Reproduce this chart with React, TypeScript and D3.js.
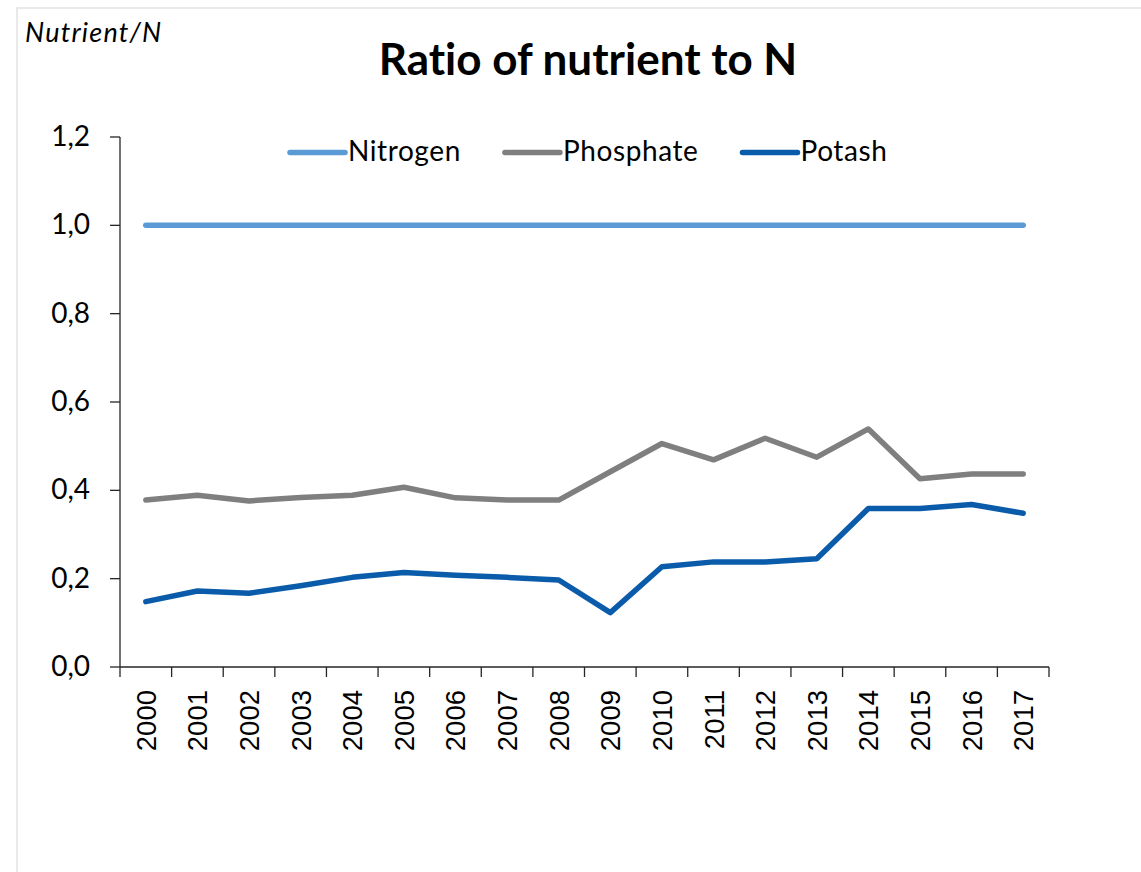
import { useEffect, useRef } from "react";
import * as d3 from "d3";

const years = ["2000", "2001", "2002", "2003", "2004", "2005", "2006", "2007", "2008",
  "2009", "2010", "2011", "2012", "2013", "2014", "2015", "2016", "2017"];
const nitrogen = [1, 1, 1, 1, 1, 1, 1, 1, 1, 1, 1, 1, 1, 1, 1, 1, 1, 1];
const phosphate = [0.378, 0.389, 0.376, 0.384, 0.389, 0.407, 0.383, 0.378, 0.378,
  0.442, 0.506, 0.469, 0.518, 0.475, 0.539, 0.426, 0.437, 0.437];
const potash = [0.148, 0.172, 0.167, 0.184, 0.203, 0.214, 0.208, 0.203, 0.197,
  0.123, 0.227, 0.238, 0.238, 0.245, 0.359, 0.359, 0.368, 0.348];
const yTicks = [0, 0.2, 0.4, 0.6, 0.8, 1.0, 1.2];

const seriesList = [
  { name: "Nitrogen", values: nitrogen, color: "#5B9BD5" },
  { name: "Phosphate", values: phosphate, color: "#7F7F7F" },
  { name: "Potash", values: potash, color: "#0A5CAB" },
];

const FONT = "Lato, 'Open Sans', sans-serif";

export default function App() {
  const ref = useRef<SVGSVGElement>(null);

  useEffect(() => {
    const svg = d3.select(ref.current);
    svg.selectAll("*").remove();

    const W = 1141, H = 872;
    // plot area
    const M = { LEFT: 120, RIGHT: 1049, TOP: 137, BOTTOM: 667 };

    // chart frame (light border)
    svg.append("rect")
      .attr("x", 17).attr("y", 8)
      .attr("width", W).attr("height", H)
      .attr("fill", "#fff")
      .attr("stroke", "#e2e2e2").attr("stroke-width", 1.5);

    const x = d3.scaleBand().domain(years).range([M.LEFT, M.RIGHT]);
    const y = d3.scaleLinear().domain([0, 1.2]).range([M.BOTTOM, M.TOP]);

    // y axis
    const yAxis = svg.append("g");
    yAxis.append("line")
      .attr("x1", M.LEFT).attr("x2", M.LEFT)
      .attr("y1", M.TOP).attr("y2", M.BOTTOM)
      .attr("stroke", "#262626").attr("stroke-width", 1.3);
    yTicks.forEach(t => {
      yAxis.append("line")
        .attr("x1", M.LEFT - 10).attr("x2", M.LEFT)
        .attr("y1", y(t)).attr("y2", y(t))
        .attr("stroke", "#262626").attr("stroke-width", 1.3);
      yAxis.append("text")
        .attr("x", M.LEFT - 30).attr("y", y(t) + 9)
        .attr("text-anchor", "end")
        .attr("font-family", FONT).attr("font-size", 28)
        .attr("fill", "#000")
        .text(d3.format(".1f")(t).replace(".", ","));
    });

    // x axis
    const xAxis = svg.append("g");
    xAxis.append("line")
      .attr("x1", M.LEFT).attr("x2", M.RIGHT)
      .attr("y1", M.BOTTOM).attr("y2", M.BOTTOM)
      .attr("stroke", "#262626").attr("stroke-width", 1.3);
    const bounds = years.map(yr => x(yr) as number).concat([M.RIGHT]);
    bounds.forEach(b => {
      xAxis.append("line")
        .attr("x1", b).attr("x2", b)
        .attr("y1", M.BOTTOM).attr("y2", M.BOTTOM + 10)
        .attr("stroke", "#262626").attr("stroke-width", 1.3);
    });
    years.forEach(yr => {
      const cx = (x(yr) as number) + x.bandwidth() / 2;
      xAxis.append("text")
        .attr("transform", `translate(${cx + 10}, ${M.BOTTOM + 23}) rotate(-90)`)
        .attr("text-anchor", "end")
        .attr("font-family", "'Liberation Sans', Arial, sans-serif")
        .attr("font-size", 27.5)
        .attr("fill", "#000")
        .text(yr);
    });

    // lines
    const line = d3.line<number>()
      .x((_, i) => (x(years[i]) as number) + x.bandwidth() / 2)
      .y(d => y(d));
    seriesList.forEach(s => {
      svg.append("path")
        .datum(s.values)
        .attr("fill", "none")
        .attr("stroke", s.color)
        .attr("stroke-width", 5.5)
        .attr("stroke-linejoin", "round")
        .attr("stroke-linecap", "round")
        .attr("d", line);
    });

    // legend
    const legend = svg.append("g");
    let lx = 290;
    const ly = 152.5;
    seriesList.forEach(s => {
      legend.append("line")
        .attr("x1", lx).attr("x2", lx + 55)
        .attr("y1", ly).attr("y2", ly)
        .attr("stroke", s.color).attr("stroke-width", 5.5)
        .attr("stroke-linecap", "round");
      const t = legend.append("text")
        .attr("x", lx + 58).attr("y", ly + 8)
        .attr("font-family", FONT).attr("font-size", 28)
        .attr("letter-spacing", 0.6)
        .attr("fill", "#000")
        .text(s.name);
      const w = (t.node() as SVGTextElement).getComputedTextLength();
      lx = lx + 58 + w + 44;
    });

    // title
    svg.append("text")
      .attr("x", 588).attr("y", 75)
      .attr("text-anchor", "middle")
      .attr("font-family", FONT).attr("font-weight", "bold")
      .attr("font-size", 44)
      .style("font-variant-ligatures", "none")
      .attr("fill", "#000")
      .text("Ratio of nutrient to N");

    // y axis unit label
    svg.append("text")
      .attr("x", 25).attr("y", 42)
      .attr("font-family", FONT).attr("font-style", "italic")
      .attr("font-size", 27)
      .attr("letter-spacing", 1.2)
      .attr("fill", "#000")
      .text("Nutrient/N");
  }, []);

  return (
    <svg ref={ref} width={1141} height={872}
      style={{ position: "absolute", left: 0, top: 0, background: "#fff" }} />
  );
}
